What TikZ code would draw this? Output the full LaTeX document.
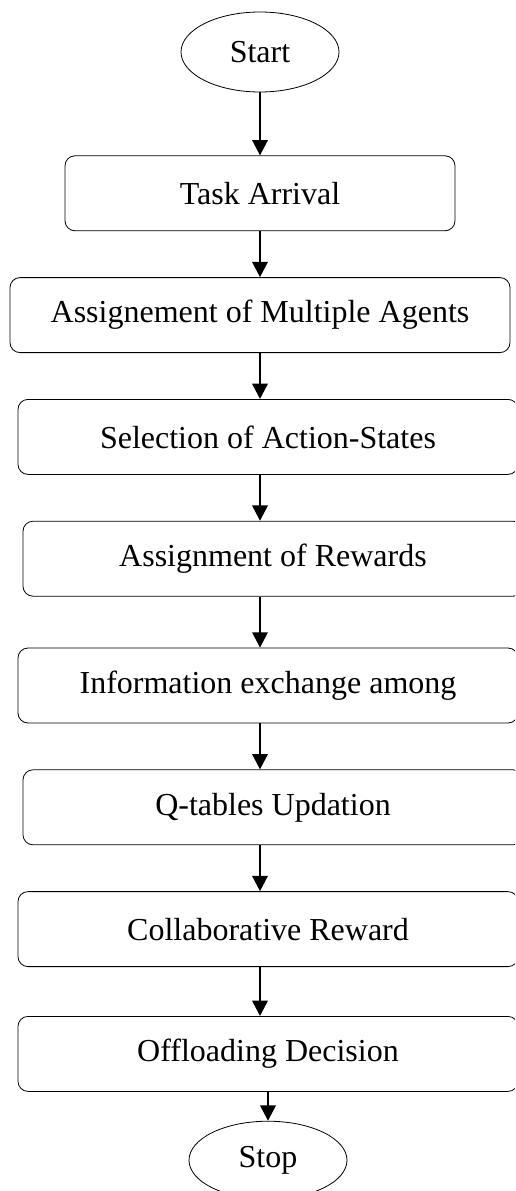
\documentclass[tikz,border=0pt]{standalone}
\usepackage{fontspec}
\setmainfont{Liberation Serif}
\usetikzlibrary{arrows.meta, positioning, shapes.geometric}
\tikzset{box/.style={rectangle,draw,rounded corners=7.5pt,align=center,inner sep=3pt,line width=0.6pt,minimum width=375pt,minimum height=56.25pt,font=\fontsize{24}{28}\selectfont},
  term/.style={ellipse,draw,inner sep=0pt,line width=0.6pt,minimum width=118.5pt,minimum height=60pt,font=\fontsize{24}{28}\selectfont},
  line/.style={-{Triangle[width=11.5pt,length=11.5pt]},line width=1.8pt}}
\begin{document}
\begin{tikzpicture}[node distance=34.5pt]
\clip (0,0) rectangle (386.25pt,-893.25pt);
\useasboundingbox (0,0) rectangle (386.25pt,-893.25pt);
\node[term] (s) at (195pt,-39pt) {Start};
\node[box, below=47.25pt of s, minimum width=292.5pt] (t) {Task Arrival};
\node[box, below=of t] (a) {Assignement of Multiple Agents};
\node[box, below=of a, xshift=6pt] (sel) {Selection of Action-States};
\node[box, below=of sel, xshift=3.75pt] (rw) {Assignment of Rewards};
\node[box, below=38.25pt of rw, xshift=-3.75pt] (ie) {Information exchange among};
\node[box, below=of ie, xshift=3.75pt] (q) {Q-tables Updation};
\node[box, below=of q, xshift=-3.75pt] (c) {Collaborative Reward};
\node[box, below=36.75pt of c] (o) {Offloading Decision};
\node[term, below=21.75pt of o, minimum height=58.5pt] (e) {Stop};
\draw[line] (s) -- (t);
\draw[line] (t) -- (a);
\draw[line] (a) -- (sel.north -| a.south);
\draw[line] (sel.south -| a.south) -- (rw.north -| a.south);
\draw[line] (rw.south -| a.south) -- (ie.north -| a.south);
\draw[line] (ie.south -| a.south) -- (q.north -| a.south);
\draw[line] (q.south -| a.south) -- (c.north -| a.south);
\draw[line] (c.south -| a.south) -- (o.north -| a.south);
\draw[line] (o) -- (e);
\end{tikzpicture}
\end{document}
